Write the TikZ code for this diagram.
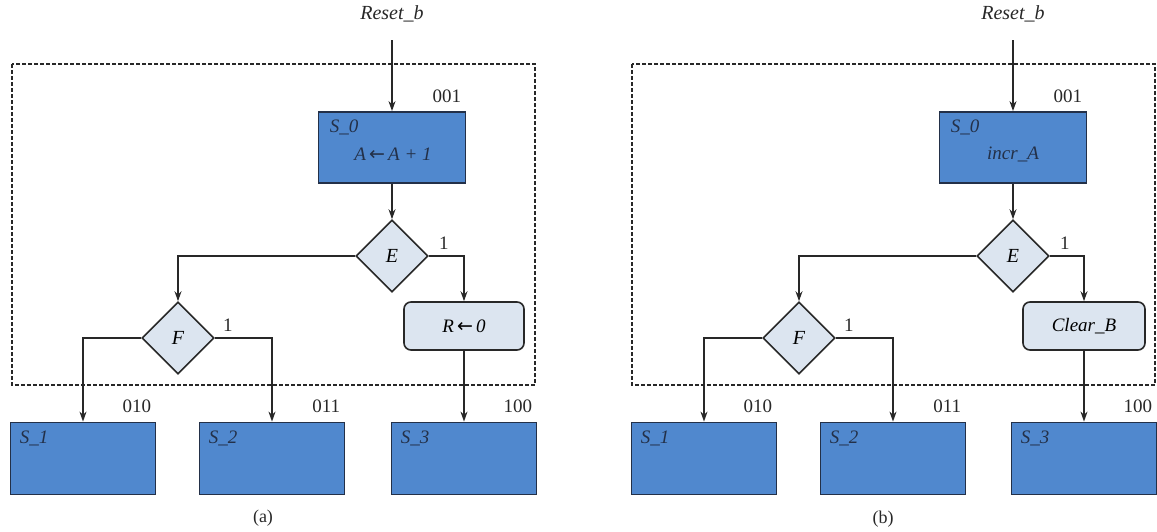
\documentclass[tikz,border=0pt]{standalone}
\usepackage{fontspec}
\setmainfont{Liberation Serif}
\newfontfamily\arrowfont{DejaVu Sans}
\usetikzlibrary{arrows.meta,positioning,shapes.geometric}

\definecolor{stateblue}{RGB}{80,136,206}
\definecolor{stateedge}{RGB}{35,48,72}
\definecolor{condfill}{RGB}{220,229,240}
\definecolor{inkgray}{RGB}{40,40,40}

\begin{document}
\begin{tikzpicture}[
  x=1pt, y=-1pt,
  state/.style={draw=stateedge, fill=stateblue, line width=1.8pt,
    minimum width=145pt, minimum height=72pt, inner sep=0pt},
  decision/.style={diamond, aspect=1, draw=inkgray, fill=condfill, line width=1.6pt,
    minimum size=72pt, inner sep=0pt, font=\fontsize{20}{22}\selectfont\itshape},
  condout/.style={draw=inkgray, fill=condfill, rounded corners=7pt, line width=1.6pt,
    minimum width=120pt, minimum height=48pt, font=\fontsize{19}{21}\selectfont\itshape},
  sname/.style={anchor=north west, inner sep=0pt, text=stateedge,
    font=\fontsize{19}{21}\selectfont\itshape},
  code/.style={inner sep=0pt, text=stateedge, font=\fontsize{19}{21}\selectfont\itshape},
  sig/.style={inner sep=0pt, text=inkgray, font=\fontsize{20}{22}\selectfont\itshape},
  digits/.style={inner sep=0pt, text=inkgray, font=\fontsize{19}{21}\selectfont},
  flow/.style={-{Stealth[length=10pt,width=7pt]}, line width=1.5pt, draw=inkgray},
  block/.style={draw=inkgray, dash pattern=on 4pt off 2pt, line width=1.8pt},
  caption/.style={inner sep=0pt, text=inkgray, font=\fontsize{18}{20}\selectfont}
]
  \useasboundingbox (0,0) rectangle (1157,531);

  % (a) register operations in the chart
  \draw[block] (12,64) rectangle (535,385);
  \node[sig] (rsta) at (392,14) {Reset\_b};
  \node[state, minimum width=147pt, minimum height=71pt] (s0a) at (392,147.5) {};
  \node[sname] at ([shift={(12,9)}]s0a.north west) {S\_0};
  \node[code] at (393,154) {A\,{\arrowfont ←}\,A + 1};
  \node[digits, above left=8pt and 5pt of s0a.north east] {001};

  \node[decision] (ea) at (392,256) {E};
  \node[decision] (fa) at (178,338) {F};
  \node[condout] (ra) at (464,326) {R\,{\arrowfont ←}\,0};
  \node[digits, above right=6pt and 10pt of ea.east] {1};
  \node[digits, above right=6pt and 8pt of fa.east] {1};

  \node[state] (s1a) at (83,458.5) {};
  \node[state] (s2a) at (272,458.5) {};
  \node[state] (s3a) at (464,458.5) {};
  \node[sname] at ([shift={(10,9)}]s1a.north west) {S\_1};
  \node[sname] at ([shift={(10,9)}]s2a.north west) {S\_2};
  \node[sname] at ([shift={(10,9)}]s3a.north west) {S\_3};
  \node[digits, above left=9pt and 5pt of s1a.north east] {010};
  \node[digits, above left=9pt and 5pt of s2a.north east] {011};
  \node[digits, above left=9pt and 5pt of s3a.north east] {100};
  \node[caption] (capa) at (263,518) {(a)};

  \draw[flow, shorten <=18pt] (rsta) -- (s0a);
  \draw[flow] (s0a) -- (ea);
  \draw[flow] (ea.west) -| (fa.north);
  \draw[flow] (ea.east) -| (ra.north);
  \draw[flow] (fa.west) -| (s1a.north);
  \draw[flow] (fa.east) -| (s2a.north);
  \draw[flow] (ra) -- (s3a);

  % (b) control signals in the chart
  \draw[block] (632,64) rectangle (1155,385);
  \node[sig] (rstb) at (1013,14) {Reset\_b};
  \node[state, minimum width=147pt, minimum height=71pt] (s0b) at (1013,147.5) {};
  \node[sname] at ([shift={(12,9)}]s0b.north west) {S\_0};
  \node[code] at (1013,154) {incr\_A};
  \node[digits, above left=8pt and 5pt of s0b.north east] {001};

  \node[decision] (eb) at (1013,256) {E};
  \node[decision] (fb) at (799,338) {F};
  \node[condout, minimum width=122pt] (rb) at (1084,326) {Clear\_B};
  \node[digits, above right=6pt and 10pt of eb.east] {1};
  \node[digits, above right=6pt and 8pt of fb.east] {1};

  \node[state] (s1b) at (704,458.5) {};
  \node[state] (s2b) at (893,458.5) {};
  \node[state] (s3b) at (1084,458.5) {};
  \node[sname] at ([shift={(10,9)}]s1b.north west) {S\_1};
  \node[sname] at ([shift={(10,9)}]s2b.north west) {S\_2};
  \node[sname] at ([shift={(10,9)}]s3b.north west) {S\_3};
  \node[digits, above left=9pt and 5pt of s1b.north east] {010};
  \node[digits, above left=9pt and 5pt of s2b.north east] {011};
  \node[digits, above left=9pt and 5pt of s3b.north east] {100};
  \node[caption] (capb) at (883,519) {(b)};

  \draw[flow, shorten <=18pt] (rstb) -- (s0b);
  \draw[flow] (s0b) -- (eb);
  \draw[flow] (eb.west) -| (fb.north);
  \draw[flow] (eb.east) -| (rb.north);
  \draw[flow] (fb.west) -| (s1b.north);
  \draw[flow] (fb.east) -| (s2b.north);
  \draw[flow] (rb) -- (s3b);
\end{tikzpicture}
\end{document}
